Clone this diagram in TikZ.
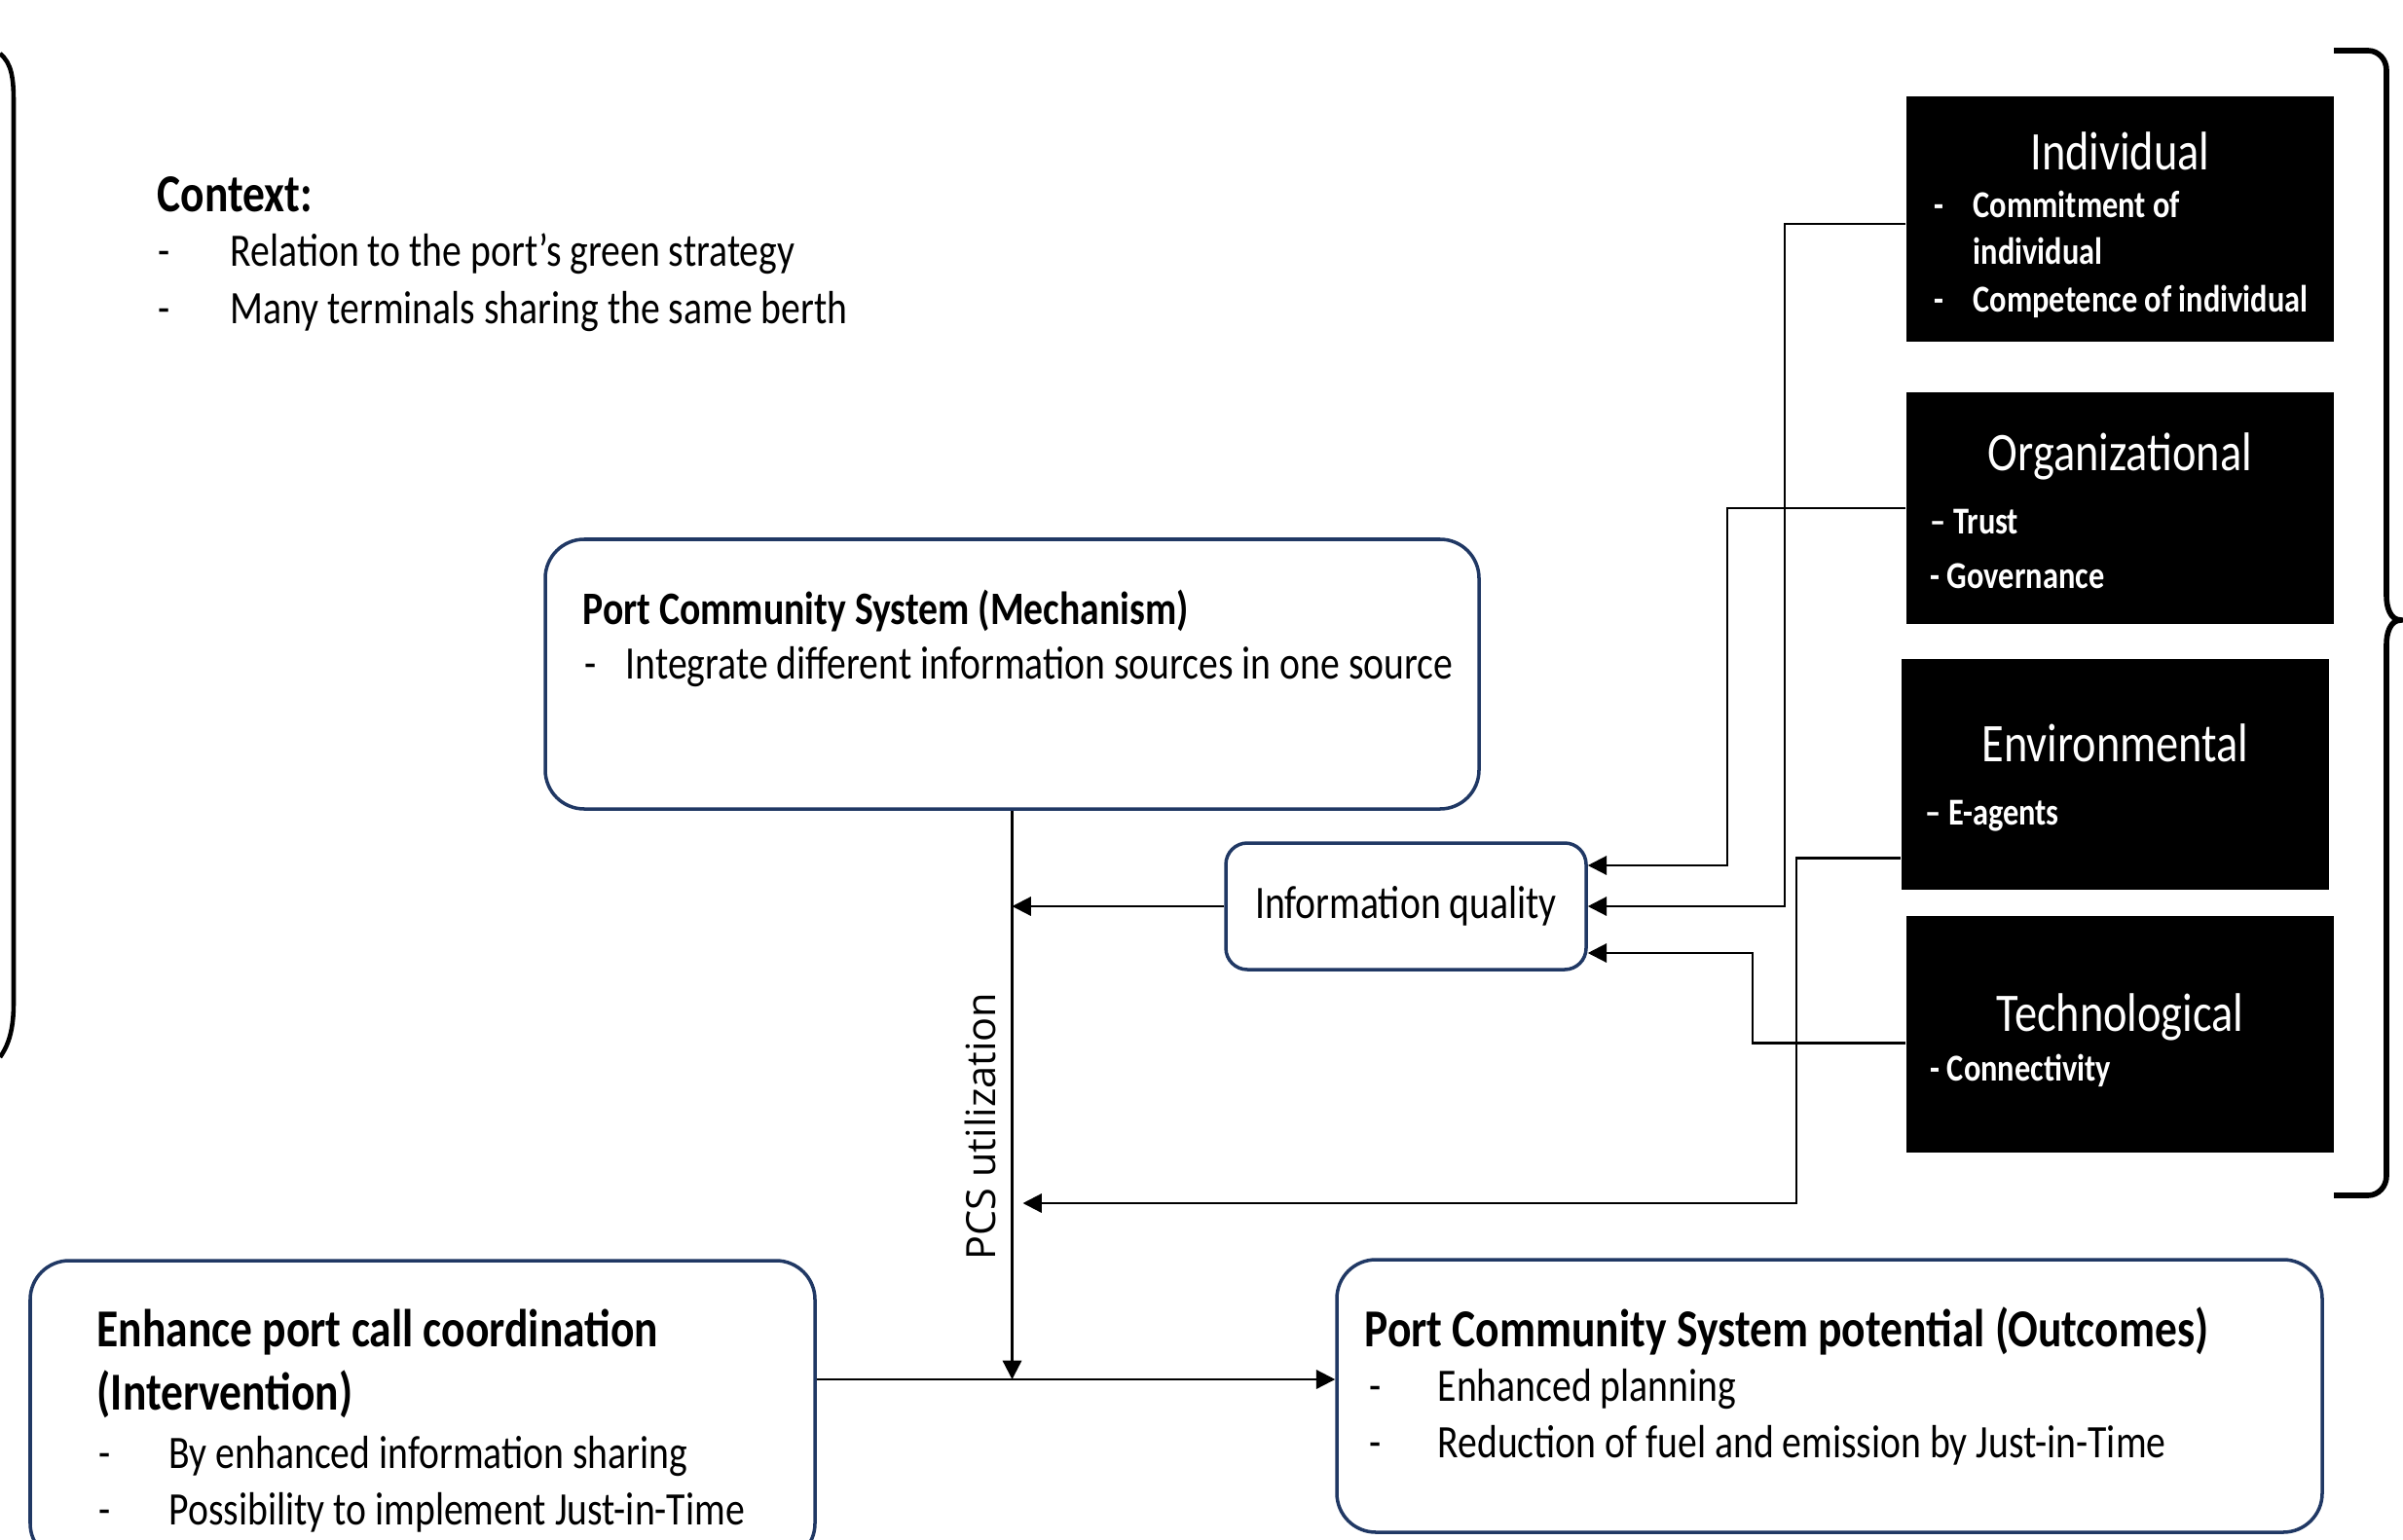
\documentclass[tikz,border=0pt]{standalone}
\usepackage{fontspec}
\setmainfont{Carlito}[FakeStretch=0.83]
\newfontfamily\pcsfont{Open Sans}
\usetikzlibrary{positioning,arrows.meta,calc}
\definecolor{boxblue}{RGB}{32,56,100}
\newcommand{\listdash}[2][0.74cm]{\makebox[#1][l]{-}#2}

\begin{document}
\begin{tikzpicture}[
    >={Triangle[length=5.5pt,width=5.5pt]},
    flow/.style={line width=0.65pt},
    roundbox/.style={draw=boxblue,line width=1pt,rounded corners=0.4cm,inner sep=0pt},
    factor/.style={fill=black,inner sep=0pt,minimum width=4.39cm},
    body/.style={anchor=base west,inner sep=0pt,font=\fontsize{13.6}{15}\selectfont},
    head/.style={anchor=base west,inner sep=0pt,font=\bfseries\fontsize{15.6}{18}\selectfont},
    facthead/.style={anchor=base,inner sep=0pt,text=white,font=\fontsize{15.9}{18}\selectfont},
    factitem/.style={anchor=base west,inner sep=0pt,text=white,font=\bfseries\fontsize{11.1}{13}\selectfont},
    brace/.style={line width=1.6pt},
]
\useasboundingbox (0,0) rectangle (24.68,-15.82);

% context
\node[head] (ctx) at (1.61,-2.17) {Context:};
\node[body] (ctx1) at (1.62,-2.74) {\listdash{Relation to the port’s green strategy}};
\node[body,below=0.58cm of ctx1.base west,anchor=base west] (ctx2) {\listdash{Many terminals sharing the same berth}};
\draw[brace,line width=1.3pt] (0,-0.55) .. controls (0.12,-0.65) and (0.14,-0.8) .. (0.14,-1.05)
    -- (0.14,-10.3) .. controls (0.14,-10.55) and (0.1,-10.72) .. (0,-10.86);

% mechanism
\node[roundbox,minimum width=9.59cm,minimum height=2.77cm] (mech) at (10.395,-6.925) {};
\node[body,font=\bfseries\fontsize{13.6}{15}\selectfont] (mecht) at (5.98,-6.41) {Port Community System (Mechanism)};
\node[body] (mech1) at (6.00,-6.97) {\listdash[0.42cm]{Integrate different information sources in one source}};

% information quality
\node[roundbox,rounded corners=0.22cm,minimum width=3.7cm,minimum height=1.3cm,
      font=\fontsize{13.6}{15}\selectfont] (info) at (14.44,-9.31) {Information quality};

% intervention
\node[roundbox,minimum width=8.06cm,minimum height=3.1cm] (interv) at (4.34,-14.50) {};
\node[head] (intt1) at (0.99,-13.83) {Enhance port call coordination};
\node[head] (intt2) at (0.99,-14.48) {(Intervention)};
\node[body] (int1) at (1.01,-15.08) {\listdash[0.72cm]{By enhanced information sharing}};
\node[body] (int2) at (1.01,-15.66) {\listdash[0.72cm]{Possibility to implement Just-in-Time}};

% outcomes
\node[roundbox,minimum width=10.12cm,minimum height=2.8cm] (outc) at (18.79,-14.34) {};
\node[head] (outt) at (14.01,-13.83) {Port Community System potential (Outcomes)};
\node[body] (out1) at (14.06,-14.39) {\listdash[0.70cm]{Enhanced planning}};
\node[body] (out2) at (14.06,-14.97) {\listdash[0.70cm]{Reduction of fuel and emission by Just-in-Time}};

% factors
\node[factor,minimum height=2.52cm] (ind) at (21.775,-2.25) {};
\node[factor,minimum height=2.38cm] (org) at (21.775,-5.22) {};
\node[factor,minimum height=2.37cm] (env) at (21.725,-7.955) {};
\node[factor,minimum height=2.43cm] (tech) at (21.775,-10.625) {};

\node[facthead] (indt) at (21.775,-1.75) {Individual};
\node[factitem] (ind1) at (19.86,-2.24) {\listdash[0.40cm]{Commitment of}};
\node[factitem] (ind2) at (20.26,-2.72) {individual};
\node[factitem] (ind3) at (19.86,-3.20) {\listdash[0.40cm]{Competence of individual}};

\node[facthead] (orgt) at (21.775,-4.83) {Organizational};
\node[factitem] (org1) at (19.82,-5.48) {– Trust};
\node[factitem] (org2) at (19.82,-6.04) {- Governance};

\node[facthead] (envt) at (21.725,-7.82) {Environmental};
\node[factitem] (env1) at (19.77,-8.47) {– E-agents};

\node[facthead] (techt) at (21.775,-10.59) {Technological};
\node[factitem] (tech1) at (19.82,-11.10) {- Connectivity};

\draw[brace] (23.97,-0.52) -- (24.32,-0.52) to[out=0,in=90] (24.51,-0.72) -- (24.51,-6.12)
    to[out=-90,in=180] (24.66,-6.37) to[out=180,in=90] (24.51,-6.62) -- (24.51,-12.08)
    to[out=-90,in=0] (24.32,-12.28) -- (23.97,-12.28);

% connectors
\coordinate (junc) at (mech.south |- 0,-14.17);
\coordinate (envturn) at (18.45,-12.36);
\coordinate (pcsend) at ($(junc |- envturn)+(0.11,0)$);
\draw[flow,->] (mech.south) -- (junc);
\draw[flow,->] (interv.east |- junc) -- (outc.west |- junc);
\draw[flow,->] (info.west) -- (info.west -| mech.south);
\draw[flow,->] ([yshift=-0.05cm]ind.west) -| ($(info.east)+(2.02,0)$) -- (info.east);
\draw[flow,->] (org.west) -| ($(info.east)+(1.43,0.42)$) -- ($(info.east)+(0,0.42)$);
\draw[flow,->] ([yshift=-0.09cm]tech.west) -| ($(info.east)+(1.69,-0.48)$) -- ($(info.east)+(0,-0.48)$);
\draw[flow,->] ([yshift=-0.86cm]env.west) -| (envturn) -- (pcsend);
\node[rotate=90,inner sep=0pt,font=\pcsfont\fontsize{11.8}{13}\selectfont] (pcs) at (10.07,-11.57) {PCS utilization};
\end{tikzpicture}
\end{document}
